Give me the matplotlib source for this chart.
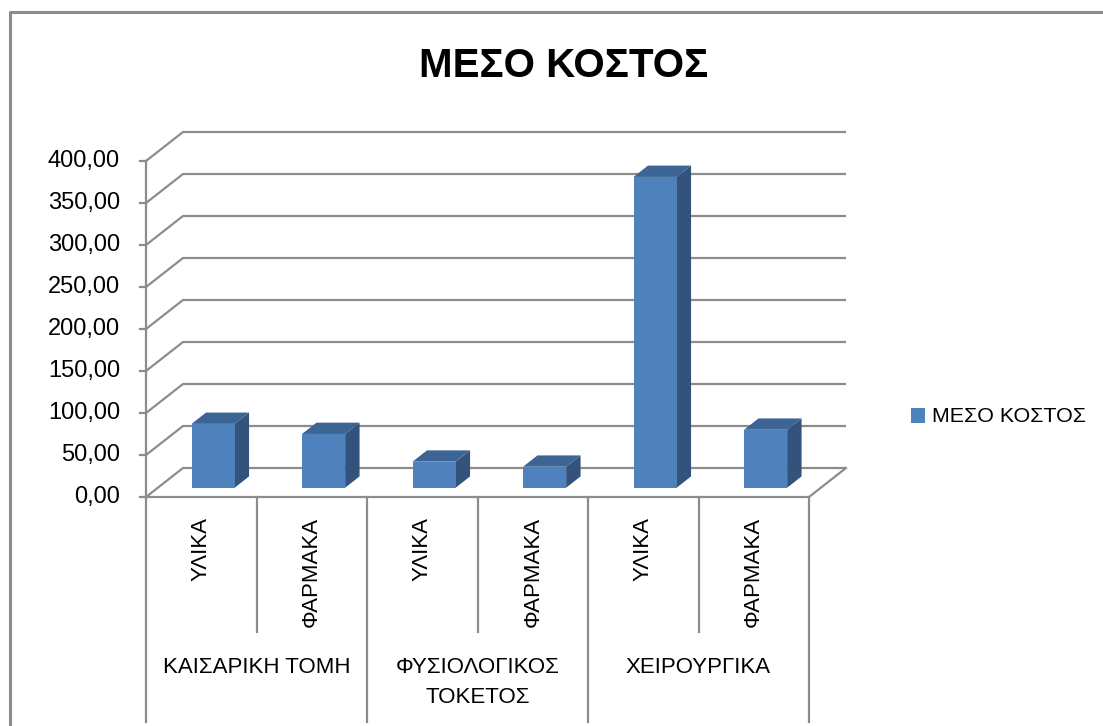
import matplotlib.pyplot as plt
from matplotlib.patches import Polygon, Rectangle
from matplotlib.lines import Line2D

plt.rcParams['font.family'] = ['Liberation Sans', 'DejaVu Sans']

# data
groups = ['ΚΑΙΣΑΡΙΚΗ ΤΟΜΗ', 'ΦΥΣΙΟΛΟΓΙΚΟΣ\nΤΟΚΕΤΟΣ', 'ΧΕΙΡΟΥΡΓΙΚΑ']
items = ['ΥΛΙΚΑ', 'ΦΑΡΜΑΚΑ']
values = [76, 64, 31, 25, 370, 69]
yticks = [0, 50, 100, 150, 200, 250, 300, 350, 400]
series_name = 'ΜΕΣΟ ΚΟΣΤΟΣ'

W, H = 1103, 726
fig = plt.figure(figsize=(W / 100, H / 100), dpi=100)

# front plane of the plot box, in pixels
x0, x1, yb, yt = 146, 809, 497, 161
ax = fig.add_axes([x0 / W, 1 - yb / H, (x1 - x0) / W, (yb - yt) / H])
n = len(values)
ymax = yticks[-1]
ax.set_xlim(0, n)
ax.set_ylim(0, ymax)
ax.axis('off')

# depth offset of the back wall (pixels) converted to data units
sx = (x1 - x0) / n
sy = (yb - yt) / ymax
DX, DY = 37 / sx, 29 / sy

def px(dy_pixels):
    # pixels below the floor line -> data y
    return -dy_pixels / sy

grid = '#8c8c8c'
lw = 1.6

# walls: gridlines running from the front edge to the back wall
for t in yticks:
    ax.plot([0, DX, n + DX], [t, t + DY, t + DY], color=grid, lw=lw,
            clip_on=False, solid_capstyle='butt', zorder=1)
    ax.plot([0, -6 / sx], [t, t], color=grid, lw=lw, clip_on=False, zorder=1)
    ax.text(-26 / sx, t, f'{t:.2f}'.replace('.', ','), ha='right',
            va='center', fontsize=17)

# floor and front axis
ax.plot([0, 0], [0, ymax], color=grid, lw=lw, clip_on=False, zorder=1)
ax.plot([0, n, n + DX], [0, 0, DY], color=grid, lw=lw, clip_on=False, zorder=1)

# bars with side and top faces
front, face, side, top = 0.32, 0.39, '#33537c', '#3c6494'
depth = 0.39
for i, v in enumerate(values):
    a = i + 0.5 - face / 2
    b = i + 0.5 + face / 2
    fx, fy = front * DX, front * DY
    bx, by = (front + depth) * DX, (front + depth) * DY
    ax.add_patch(Polygon([(b + fx, fy), (b + fx, v + fy), (b + bx, v + by),
                          (b + bx, by)], closed=True, fc=side, ec='none',
                         clip_on=False, zorder=3))
    ax.add_patch(Polygon([(a + fx, v + fy), (b + fx, v + fy), (b + bx, v + by),
                          (a + bx, v + by)], closed=True, fc=top, ec='none',
                         clip_on=False, zorder=3))
    ax.add_patch(Rectangle((a + fx, fy), face, v, fc='#4f81bd', ec='none',
                           clip_on=False, zorder=4))

# category axis below the floor
k = len(items)
for i in range(n + 1):
    low = px(225) if i % k == 0 else px(135)
    ax.plot([i, i], [0, low], color=grid, lw=lw, clip_on=False, zorder=1)
for i in range(n):
    ax.text(i + 0.5, px(20), items[i % k], rotation=90, ha='center',
            va='top', fontsize=16)
for g, name in enumerate(groups):
    ax.text(g * k + k / 2, px(160), name, ha='center', va='top',
            fontsize=16, linespacing=1.55)

# legend
fig.patches.append(Rectangle((911 / W, 1 - 423 / H), 14 / W, 15 / H,
                             transform=fig.transFigure, fc='#4f81bd',
                             ec='none'))
fig.text(932 / W, 1 - 416 / H, series_name, ha='left', va='center',
         fontsize=15.4)

fig.text(564 / W, 1 - 66 / H, series_name, ha='center', va='center',
         fontsize=29, fontweight='bold')

# chart border
fig.lines.append(Line2D([10 / W, 10 / W, 1], [0, 1 - 12 / H, 1 - 12 / H],
                        transform=fig.transFigure, color=grid, lw=2.2))

fig.savefig('out.png', dpi=100)
